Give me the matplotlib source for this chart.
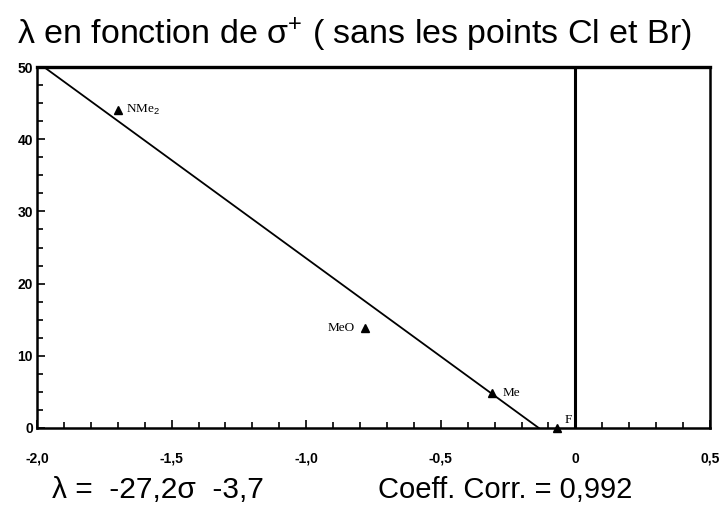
import matplotlib.pyplot as plt
from matplotlib.ticker import MultipleLocator, FuncFormatter

# substituents, sigma+ and lambda values
labels = ['NMe$_2$', 'MeO', 'Me', 'F']
sigma = [-1.70, -0.78, -0.31, -0.07]
lam = [44.0, 13.8, 4.8, 0.0]

# regression line  lambda = slope*sigma + intercept
slope = -27.2
intercept = -3.7
r_coeff = 0.992

plt.rcParams['mathtext.fontset'] = 'custom'
plt.rcParams['mathtext.rm'] = 'Liberation Sans'
plt.rcParams['mathtext.it'] = 'Liberation Sans'

fig = plt.figure(figsize=(7.27, 5.08), dpi=100)
ax = fig.add_axes([0.051, 0.1575, 0.9256, 0.7105])

ax.set_xlim(-2.0, 0.5)
ax.set_ylim(0, 50)

# fitted line, drawn up to where it crosses lambda = 0
x0 = -intercept / slope
xs = [-2.0, x0]
ys = [slope * x + intercept for x in xs]
ax.plot(xs, ys, color='black', lw=1.3, clip_on=True)

ax.axvline(0, color='black', lw=2.2)

ax.plot(sigma, lam, '^', color='black', ms=5.5, clip_on=False, zorder=5)

offsets = {'NMe$_2$': (6, 0, 'left'), 'MeO': (-8, 0, 'right'),
           'Me': (8, 0, 'left'), 'F': (6, 6, 'left')}
for lab, x, y in zip(labels, sigma, lam):
    dx, dy, ha = offsets[lab]
    ax.annotate(lab, (x, y), xytext=(dx, dy), textcoords='offset points',
                ha=ha, va='center', fontsize=9.5, family='Liberation Serif')

for side in ['left', 'bottom', 'right']:
    ax.spines[side].set_linewidth(1.8)
ax.spines['top'].set_linewidth(2.4)

ax.xaxis.set_major_locator(MultipleLocator(0.5))
ax.xaxis.set_minor_locator(MultipleLocator(0.1))
ax.yaxis.set_major_locator(MultipleLocator(10))
ax.yaxis.set_minor_locator(MultipleLocator(2.5))
ax.tick_params(which='both', direction='in', top=False, right=False, width=1.2)
ax.tick_params(which='major', length=6)
ax.tick_params(which='minor', length=4)
ax.tick_params(axis='x', which='major', pad=17)
ax.tick_params(axis='y', which='major', pad=3)

ax.xaxis.set_major_formatter(FuncFormatter(
    lambda v, p: '0' if abs(v) < 1e-9 else f'{v:.1f}'.replace('.', ',')))
ax.yaxis.set_major_formatter(FuncFormatter(lambda v, p: f'{v:.0f}'))
for t in ax.get_xticklabels() + ax.get_yticklabels():
    t.set_fontweight('bold')
    t.set_fontsize(10)
    t.set_family('Liberation Sans')

fig.text(0.023, 0.913, r'λ en fonction de σ$^{+}$ ( sans les points Cl et Br)',
         fontsize=24.5, family='Liberation Sans', ha='left', va='baseline')

fig.text(0.072, 0.02, 'λ =  -27,2σ  -3,7', fontsize=21.5,
         family='Liberation Sans', ha='left', va='baseline')
fig.text(0.52, 0.02, 'Coeff. Corr. = ' + f'{r_coeff:.3f}'.replace('.', ','),
         fontsize=21, family='Liberation Sans', ha='left', va='baseline')

fig.savefig('out.png', dpi=100)
